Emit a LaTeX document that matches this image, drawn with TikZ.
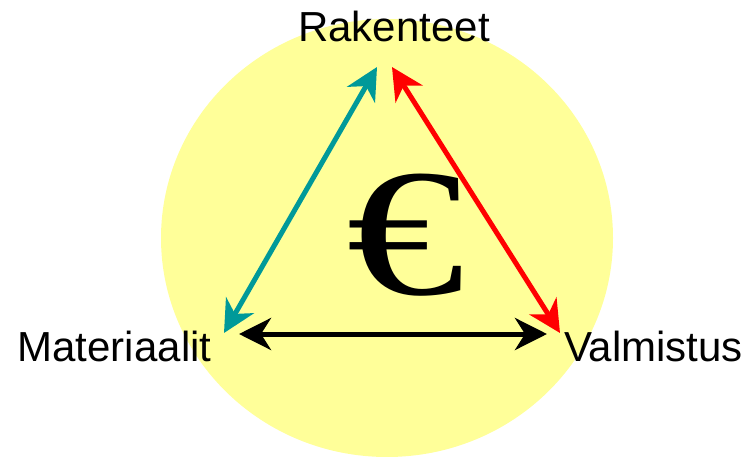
\documentclass[tikz,border=0pt]{standalone}
\usepackage{fontspec}
\setmainfont{Liberation Sans}
\newfontfamily\eurofont{Liberation Serif}
\usetikzlibrary{arrows.meta}
\definecolor{tealc}{RGB}{0,153,153}
\definecolor{yellowc}{RGB}{255,255,153}
\tikzset{
  lbl/.style={font=\fontsize{42}{42}\selectfont, inner sep=0pt, anchor=base},
  dblarrow/.style={line width=5pt, {Stealth[length=32pt,width=32pt,inset=10pt]}-{Stealth[length=32pt,width=32pt,inset=10pt]}},
}
\begin{document}
\begin{tikzpicture}[x=1pt,y=-1pt]
\useasboundingbox (0,0) rectangle (749,457);
\fill[yellowc] (387,238) ellipse [x radius=226, y radius=219];
\node[lbl] (rak) at (394,42) {Rakenteet};
\node[lbl] (mat) at (114.5,361) {Materiaalit};
\node[lbl] (val) at (653.5,361) {Valmistus};
\node[font=\eurofont\fontsize{182}{182}\selectfont, inner sep=0pt, xscale=1.3] (euro) at (406,235) {€};
\coordinate (tA) at (377,67);
\coordinate (tB) at (392,67);
\coordinate (mA) at (224,333);
\coordinate (mB) at (239,334);
\coordinate (vA) at (560,333);
\coordinate (vB) at (547,334);
\draw[dblarrow, tealc] (mA) -- (tA);
\draw[dblarrow, red] (tB) -- (vA);
\draw[dblarrow, black] (mB) -- (vB);
\end{tikzpicture}
\end{document}
